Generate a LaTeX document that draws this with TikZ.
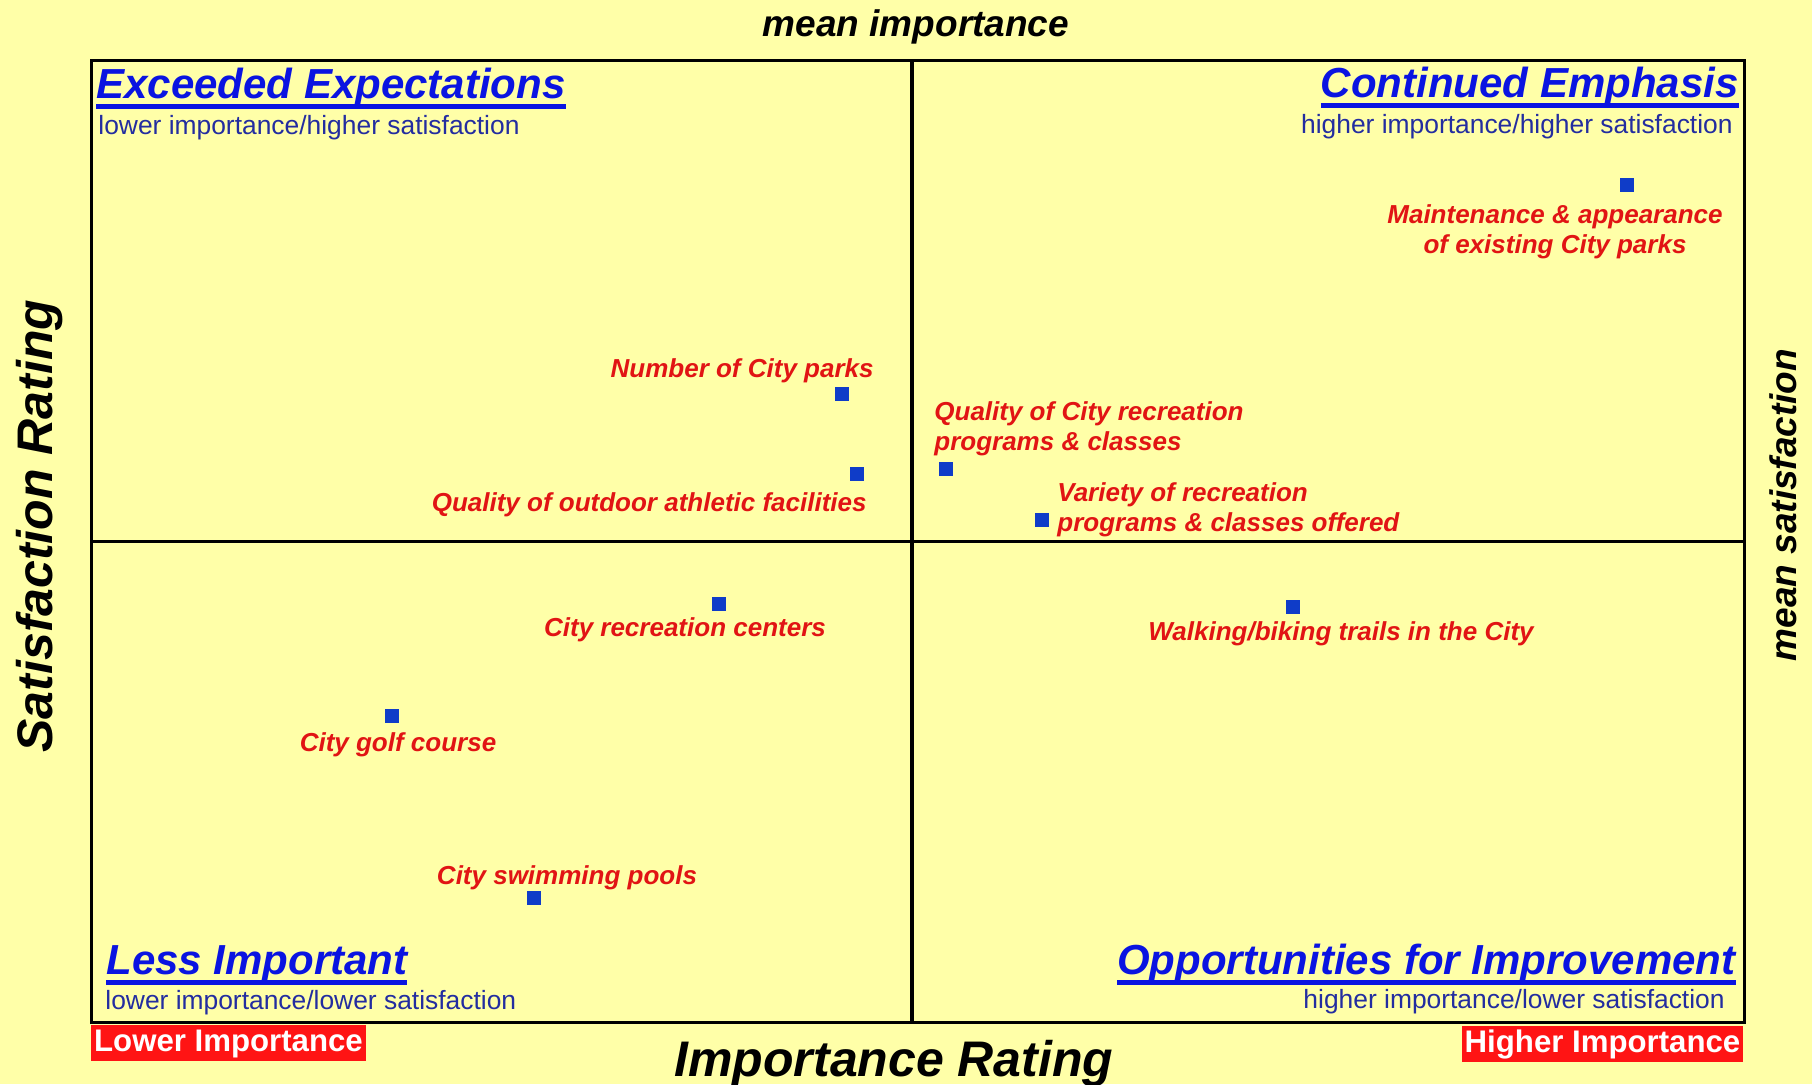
\documentclass[tikz,border=0pt]{standalone}
\usepackage{fontspec}
\setmainfont{Liberation Sans}
\definecolor{bgyellow}{RGB}{255,255,168}
\definecolor{titleblue}{RGB}{10,20,225}
\definecolor{subblue}{RGB}{35,45,160}
\definecolor{labelred}{RGB}{225,20,20}
\definecolor{ptblue}{RGB}{15,60,200}
\definecolor{boxred}{RGB}{255,20,20}
\newcommand\thickul[1]{\setbox0=\hbox{#1}\leavevmode\rlap{\rule[-5.6pt]{\wd0}{2.4pt}}\box0}
\tikzset{
  quadtitle/.style={inner sep=0pt, text=titleblue, font=\fontsize{21}{24}\selectfont\bfseries\itshape},
  quadsub/.style={inner sep=0pt, text=subblue, font=\fontsize{13.2}{15}\selectfont},
  ptlabel/.style={inner sep=0pt, text=labelred, font=\fontsize{13}{15}\selectfont\bfseries\itshape},
  pt/.style={fill=ptblue, inner sep=0pt, minimum size=7pt},
  axislabel/.style={inner sep=0pt, font=\fontsize{25}{28}\selectfont\bfseries\itshape},
  meanlabel/.style={inner sep=0pt, font=\fontsize{18.5}{21}\selectfont\bfseries\itshape},
  endbox/.style={fill=boxred, text=white, inner sep=0pt, minimum height=18pt, text height=11pt, text depth=2.5pt, font=\fontsize{15.6}{17}\selectfont\bfseries},
  frameline/.style={line width=1.5pt, black},
  vmidline/.style={line width=2pt, black},
  hmidline/.style={line width=1.5pt, black}
}
\begin{document}
\begin{tikzpicture}[x=0.5pt,y=-0.5pt]
\useasboundingbox (0,0) rectangle (1812,1084);
\fill[bgyellow] (0,0) rectangle (1812,1084);

% frame and quadrant lines
\draw[frameline] (91,60) rectangle (1744,1022);
\draw[vmidline] (912,60) -- (912,1022);
\draw[hmidline] (91,541.5) -- (1744,541.5);

% quadrant titles
\node[quadtitle, anchor=base west] (tEE) at (96,98) {\thickul{Exceeded Expectations}};
\node[quadsub, anchor=base west] (sEE) at (98,134) {lower importance/higher satisfaction};
\node[quadtitle, anchor=base east] (tCE) at (1739,97) {\thickul{Continued Emphasis}};
\node[quadsub, anchor=base east] (sCE) at (1733,133) {higher importance/higher satisfaction};
\node[quadtitle, anchor=base west] (tLI) at (106,974) {\thickul{Less Important}};
\node[quadsub, anchor=base west] (sLI) at (105,1009) {lower importance/lower satisfaction};
\node[quadtitle, anchor=base east] (tOI) at (1736,974) {\thickul{Opportunities for Improvement}};
\node[quadsub, anchor=base east] (sOI) at (1725,1008) {higher importance/lower satisfaction};

% axis labels
\node[meanlabel, anchor=base] (mimp) at (916,36) {mean importance};
\node[meanlabel, rotate=90] (msat) at (1783,505) {mean satisfaction};
\node[axislabel, anchor=base] (irat) at (894,1076) {Importance Rating};
\node[axislabel, rotate=90] (srat) at (40,526) {Satisfaction Rating};
\node[endbox, minimum width=137.5pt] (lowimp) at (228.5,1043) {Lower Importance};
\node[endbox, minimum width=140.5pt] (highimp) at (1602.5,1043.5) {Higher Importance};

% data points
\node[pt] (p1) at (1627,185) {};
\node[ptlabel, align=center] (l1) at (1555,231.5) {Maintenance \& appearance\\of existing City parks};
\node[pt] (p2) at (841.5,393.5) {};
\node[ptlabel, anchor=base east] (l2) at (874,377) {Number of City parks};
\node[pt] (p3) at (857,474) {};
\node[ptlabel, anchor=base east] (l3) at (867,511) {Quality of outdoor athletic facilities};
\node[pt] (p4) at (946,469) {};
\node[ptlabel, anchor=west, align=left] (l4) at (934,428.5) {Quality of City recreation\\programs \& classes};
\node[pt] (p5) at (1042,520) {};
\node[ptlabel, anchor=west, align=left] (l5) at (1057,509.5) {Variety of recreation\\programs \& classes offered};
\node[pt] (p6) at (719,604) {};
\node[ptlabel, anchor=base] (l6) at (685,636) {City recreation centers};
\node[pt] (p7) at (1293,607) {};
\node[ptlabel, anchor=base] (l7) at (1341,640) {Walking/biking trails in the City};
\node[pt] (p8) at (392,716) {};
\node[ptlabel, anchor=base] (l8) at (398,751) {City golf course};
\node[pt] (p9) at (534,898) {};
\node[ptlabel, anchor=base] (l9) at (567,884) {City swimming pools};
\end{tikzpicture}
\end{document}
